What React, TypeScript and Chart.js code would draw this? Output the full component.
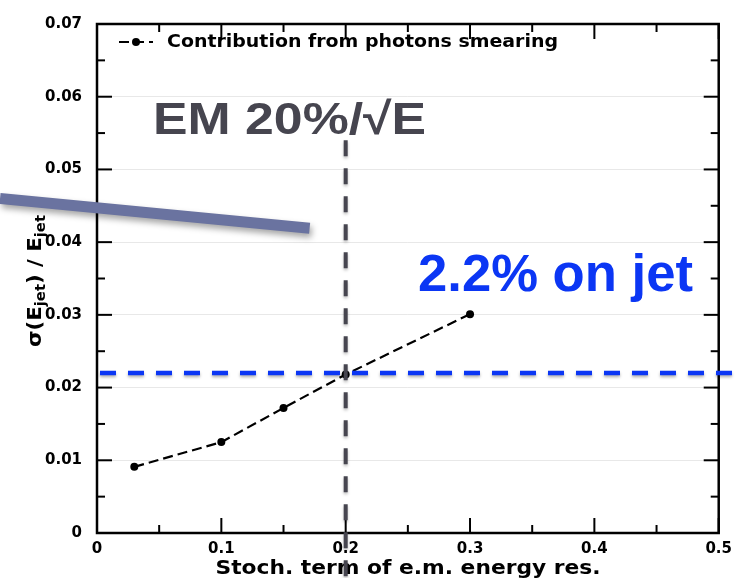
import { useEffect, useRef } from "react";
import { Chart, registerables } from "chart.js";

Chart.register(...registerables);

// Stochastic term of the e.m. energy resolution and the resulting jet resolution
const stochTerms = [0.03, 0.1, 0.15, 0.2, 0.3];
const jetResolution = [0.0091, 0.0125, 0.0172, 0.0218, 0.0301];

const seriesLabel = "Contribution from photons smearing";
const xTitle = "Stoch. term of e.m. energy res.";
const yTitleParts = [
  { text: "\u03C3(E", sub: false },
  { text: "jet", sub: true },
  { text: ") / E", sub: false },
  { text: "jet", sub: true },
];
const emLabel = "EM 20%/\u221AE";
const jetLabel = "2.2% on jet";

// Reference markers
const emStochTerm = 0.2;
const jetTarget = 0.022;
const emLineTop = 0.054;
// Callout band, in data units (starts left of the plot)
const bandFrom = { x: -0.078, y: 0.046 };
const bandTo = { x: 0.171, y: 0.0419 };

const X_MIN = 0;
const X_MAX = 0.5;
const X_STEP = 0.1;
const Y_MIN = 0;
const Y_MAX = 0.07;
const Y_STEP = 0.01;

const TICK_FONT = { family: "'DejaVu Sans', sans-serif", size: 15, weight: "bold" as const };

const fmt = (v: number | string) => {
  const n = Number(v);
  if (Math.abs(n) < 1e-12) return "0";
  return String(Number(n.toFixed(3)));
};

function drawFitted(
  ctx: CanvasRenderingContext2D,
  text: string,
  x: number,
  y: number,
  width: number,
  font: string,
  color: string
) {
  ctx.save();
  ctx.font = font;
  const w = ctx.measureText(text).width;
  ctx.translate(x, y);
  ctx.scale(width / w, 1);
  ctx.fillStyle = color;
  ctx.textBaseline = "alphabetic";
  ctx.textAlign = "left";
  ctx.fillText(text, 0, 0);
  ctx.restore();
}

const midpoints = (vals: number[]) => {
  const out: number[] = [];
  for (let i = 0; i < vals.length - 1; i++) out.push((vals[i] + vals[i + 1]) / 2);
  return out;
};

// Closed frame with inward major/minor ticks on all four sides
const framePlugin = {
  id: "frame",
  afterDatasetsDraw(chart: any) {
    const { ctx, chartArea: a, scales } = chart;
    const xs = scales.x;
    const ys = scales.y;
    const xMajor = xs.ticks.map((t: any) => t.value);
    const yMajor = ys.ticks.map((t: any) => t.value);
    ctx.save();
    ctx.strokeStyle = "#000";
    ctx.lineWidth = 2;
    const tick = (x1: number, y1: number, x2: number, y2: number) => {
      ctx.beginPath();
      ctx.moveTo(x1, y1);
      ctx.lineTo(x2, y2);
      ctx.stroke();
    };
    for (const [vals, len] of [
      [xMajor, 15],
      [midpoints(xMajor), 8],
    ] as [number[], number][]) {
      for (const v of vals) {
        const px = xs.getPixelForValue(v);
        tick(px, a.bottom, px, a.bottom - len);
        tick(px, a.top, px, a.top + len);
      }
    }
    for (const [vals, len] of [
      [yMajor, 15],
      [midpoints(yMajor), 8],
    ] as [number[], number][]) {
      for (const v of vals) {
        const py = ys.getPixelForValue(v);
        tick(a.left, py, a.left + len, py);
        tick(a.right, py, a.right - len, py);
      }
    }
    ctx.lineWidth = 2.5;
    ctx.strokeRect(a.left, a.top, a.right - a.left, a.bottom - a.top);
    ctx.restore();
  },
};

// Legend, axis titles and the overlaid reference markers
const overlayPlugin = {
  id: "overlay",
  afterDraw(chart: any) {
    const { ctx, chartArea: a, scales, width, height } = chart;
    const xs = scales.x;
    const ys = scales.y;
    const ds = chart.data.datasets[0];

    // legend entry
    ctx.save();
    ctx.strokeStyle = "#000";
    ctx.lineWidth = 2.2;
    ctx.setLineDash(ds.borderDash);
    ctx.beginPath();
    ctx.moveTo(119, 42);
    ctx.lineTo(153, 42);
    ctx.stroke();
    ctx.setLineDash([]);
    ctx.fillStyle = "#000";
    ctx.beginPath();
    ctx.arc(136, 42, 4, 0, Math.PI * 2);
    ctx.fill();
    ctx.restore();
    drawFitted(ctx, ds.label, 167, 47, 391, "bold 18px 'DejaVu Sans'", "#000");

    // x title
    drawFitted(ctx, xTitle, 215.5, 574, 385, "bold 20px 'DejaVu Sans'", "#000");

    // y title, rotated, with subscripts
    ctx.save();
    const mainFont = "bold 20px 'DejaVu Sans'";
    const subFont = "bold 14px 'DejaVu Sans'";
    let total = 0;
    const widths = yTitleParts.map((p) => {
      ctx.font = p.sub ? subFont : mainFont;
      const w = ctx.measureText(p.text).width;
      total += w;
      return w;
    });
    ctx.translate(41, 347);
    ctx.rotate(-Math.PI / 2);
    ctx.scale(132 / total, 1);
    ctx.fillStyle = "#000";
    let cx = 0;
    yTitleParts.forEach((p, i) => {
      ctx.font = p.sub ? subFont : mainFont;
      ctx.fillText(p.text, cx, p.sub ? 4 : 0);
      cx += widths[i];
    });
    ctx.restore();

    // callout band
    ctx.save();
    ctx.shadowColor = "rgba(0,0,0,0.35)";
    ctx.shadowBlur = 6;
    ctx.shadowOffsetX = 2;
    ctx.shadowOffsetY = 4;
    ctx.strokeStyle = "#6a73a0";
    ctx.lineWidth = 11;
    ctx.lineCap = "butt";
    ctx.beginPath();
    ctx.moveTo(xs.getPixelForValue(bandFrom.x), ys.getPixelForValue(bandFrom.y));
    ctx.lineTo(xs.getPixelForValue(bandTo.x), ys.getPixelForValue(bandTo.y));
    ctx.stroke();
    ctx.restore();

    // EM stochastic term marker
    ctx.save();
    ctx.shadowColor = "rgba(0,0,0,0.25)";
    ctx.shadowBlur = 3;
    ctx.shadowOffsetY = 2;
    ctx.strokeStyle = "#46454f";
    ctx.lineWidth = 4;
    ctx.setLineDash([16, 12]);
    const vx = xs.getPixelForValue(emStochTerm);
    ctx.beginPath();
    ctx.moveTo(vx, ys.getPixelForValue(emLineTop));
    ctx.lineTo(vx, height);
    ctx.stroke();
    ctx.restore();

    // jet resolution target marker
    ctx.save();
    ctx.shadowColor = "rgba(0,0,0,0.3)";
    ctx.shadowBlur = 3;
    ctx.shadowOffsetY = 2;
    ctx.strokeStyle = "#0b36f4";
    ctx.lineWidth = 4.5;
    ctx.setLineDash([16, 12]);
    const hy = ys.getPixelForValue(jetTarget);
    ctx.beginPath();
    ctx.moveTo(a.left + 3, hy);
    ctx.lineTo(width, hy);
    ctx.stroke();
    ctx.restore();

    drawFitted(ctx, emLabel, 153, 134, 273, "bold 45px 'Liberation Sans'", "#46454f");
    drawFitted(ctx, jetLabel, 418, 290.5, 275, "bold 51px 'Liberation Sans'", "#0b36f4");
  },
};

export default function App() {
  const ref = useRef<HTMLCanvasElement>(null);

  useEffect(() => {
    const canvas = ref.current;
    if (!canvas) return;
    const chart = new Chart(canvas, {
      type: "line",
      data: {
        datasets: [
          {
            label: seriesLabel,
            data: stochTerms.map((x, i) => ({ x, y: jetResolution[i] })),
            borderColor: "#000",
            backgroundColor: "#000",
            borderWidth: 2.2,
            borderDash: [10, 5],
            pointRadius: 4,
            pointBackgroundColor: "#000",
            pointBorderWidth: 0,
            tension: 0,
          },
        ],
      },
      options: {
        responsive: false,
        animation: false,
        layout: { padding: { top: 16, right: 20, left: 0, bottom: 0 } },
        plugins: {
          legend: { display: false },
          tooltip: { enabled: false },
        },
        scales: {
          x: {
            type: "linear",
            min: X_MIN,
            max: X_MAX,
            ticks: { stepSize: X_STEP, padding: 7, font: TICK_FONT, color: "#000", callback: fmt },
            grid: { display: false, drawTicks: false },
            border: { display: false },
            afterFit: (s: any) => {
              s.height = 45;
            },
          },
          y: {
            type: "linear",
            min: Y_MIN,
            max: Y_MAX,
            ticks: { stepSize: Y_STEP, padding: 15, font: TICK_FONT, color: "#000", callback: fmt },
            grid: { color: "#e8e8e8", lineWidth: 1, drawTicks: false },
            border: { display: false },
            afterFit: (s: any) => {
              s.width = 97;
            },
          },
        },
      },
      plugins: [framePlugin, overlayPlugin],
    });
    return () => chart.destroy();
  }, []);

  return (
    <div style={{ position: "absolute", left: 0, top: 0, width: 739, height: 578, background: "#fff" }}>
      <canvas ref={ref} width={739} height={578} style={{ display: "block" }} />
    </div>
  );
}
